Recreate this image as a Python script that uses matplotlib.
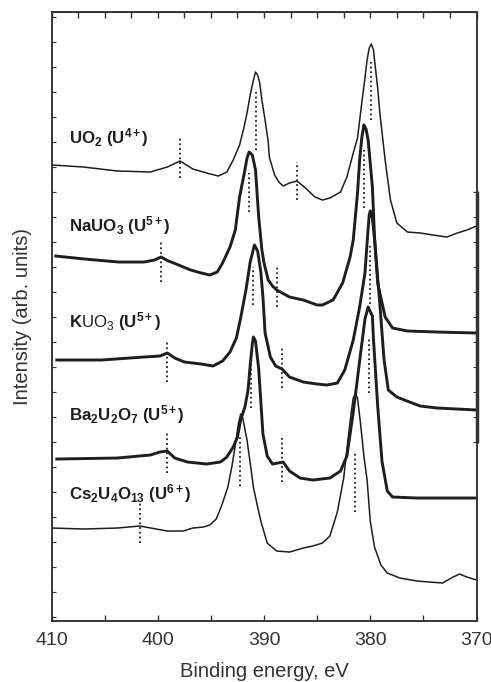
import numpy as np
import matplotlib.pyplot as plt
from matplotlib.ticker import MultipleLocator

plt.rcParams['font.family'] = ['Liberation Sans', 'DejaVu Sans']
plt.rcParams['mathtext.fontset'] = 'custom'
plt.rcParams['mathtext.rm'] = 'Liberation Sans'
plt.rcParams['mathtext.it'] = 'Liberation Sans'
plt.rcParams['mathtext.bf'] = 'Liberation Sans:bold'

# U4f spectra: binding energy (eV) and intensity (arb. units, stacked as in figure)
uo2_e = [409.9, 407.0, 403.8, 400.7, 399.1, 397.9, 396.7, 395.4, 394.3, 393.5, 392.9, 392.3,
         391.9, 391.6, 391.3, 391.1, 390.9, 390.8, 390.6, 390.4, 390.2, 389.9, 389.6, 389.5,
         389.2, 389.0, 388.6, 388.2, 387.6, 386.9, 386.1, 385.2, 384.5, 383.8, 382.8, 382.2,
         381.6, 381.2, 380.8, 380.5, 380.3, 380.1, 379.9, 379.7, 379.6, 379.3, 379.1, 378.6,
         378.1, 377.5, 376.5, 375.3, 374.1, 372.8, 371.8, 370.9, 370.0]
uo2_i = [456, 454, 450, 449, 454, 460, 452, 448, 445, 449, 461, 476,
         493, 508, 526, 536, 545, 549, 546, 538, 521, 501, 479, 464,
         453, 446, 439, 435, 438, 440, 433, 424, 421, 423, 429, 444,
         468, 483, 518, 543, 561, 573, 577, 571, 561, 533, 508, 461,
         421, 398, 389, 388, 386, 384, 388, 391, 395]

nauo3_e = [409.6, 406.9, 403.7, 401.3, 400.3, 399.7, 399.0, 398.5, 396.9, 395.9, 395.1, 394.4,
           393.9, 393.2, 392.7, 392.3, 391.8, 391.6, 391.4, 391.1, 390.8, 390.5, 390.2, 390.0,
           389.6, 389.2, 388.8, 387.6, 386.3, 385.0, 384.5, 383.5, 382.6, 381.9, 381.6, 381.2,
           381.0, 380.8, 380.6, 380.4, 380.2, 379.8, 379.6, 379.3, 378.6, 377.9, 376.5, 373.7,
           370.0]
nauo3_i = [365, 362, 359, 359, 361, 364, 360, 358, 351, 348, 346, 349,
           358, 374, 391, 424, 451, 463, 469, 466, 451, 404, 371, 358,
           341, 335, 331, 324, 321, 316, 316, 321, 338, 364, 381, 428,
           461, 483, 496, 492, 481, 434, 384, 338, 304, 293, 290, 289,
           288]

kuo3_e = [409.5, 405.3, 401.3, 399.8, 399.1, 398.4, 397.5, 395.9, 394.8, 393.9, 393.2, 392.6,
          392.2, 391.7, 391.3, 390.9, 390.6, 390.3, 390.1, 389.9, 389.4, 388.9, 388.3, 387.6,
          386.3, 385.0, 384.1, 383.1, 382.4, 381.6, 381.0, 380.5, 380.3, 380.1, 380.0, 379.8,
          379.6, 379.1, 378.7, 378.3, 377.5, 376.3, 375.3, 373.7, 370.0]
kuo3_i = [261, 261, 264, 265, 268, 263, 259, 257, 255, 260, 269, 283,
          303, 331, 359, 376, 370, 349, 324, 288, 264, 255, 252, 244,
          239, 237, 236, 238, 251, 281, 314, 348, 378, 406, 410, 403,
          382, 317, 261, 231, 224, 219, 215, 213, 211]

ba_e = [409.5, 403.8, 400.7, 399.8, 399.1, 398.4, 397.2, 395.4, 394.1, 393.5, 392.9, 392.5,
        392.2, 391.8, 391.5, 391.3, 391.1, 391.0, 390.8, 390.5, 390.1, 389.7, 389.2, 388.2,
        387.6, 386.6, 385.4, 383.8, 382.8, 382.2, 381.6, 381.0, 380.5, 380.2, 379.8, 379.7,
        379.3, 378.9, 378.4, 377.9, 375.6, 370.1]
ba_i = [162, 163, 166, 169, 170, 163, 159, 157, 159, 164, 174, 184,
        201, 214, 231, 256, 277, 284, 280, 252, 187, 165, 157, 159,
        150, 143, 141, 143, 150, 165, 209, 260, 302, 314, 305, 282,
        215, 160, 130, 124, 123, 123]

cs_e = [409.95, 407.0, 403.8, 401.7, 399.1, 397.6, 396.7, 395.7, 395.1, 394.5, 394.0, 393.4,
        393.0, 392.7, 392.4, 392.2, 392.0, 391.6, 391.3, 391.0, 390.6, 390.3, 389.7, 388.8,
        387.6, 386.3, 385.4, 384.5, 383.8, 383.1, 382.5, 382.1, 381.8, 381.6, 381.4, 381.2,
        380.9, 380.6, 380.3, 380.0, 379.6, 379.0, 378.4, 377.2, 375.6, 373.2, 372.2, 371.6,
        370.9, 370.0]
cs_i = [93, 92, 93, 95, 90, 90, 93, 94, 96, 102, 115, 134,
        156, 176, 198, 207, 203, 181, 158, 134, 114, 100, 78, 70,
        69, 73, 75, 78, 85, 109, 143, 181, 208, 223, 227, 223,
        196, 165, 141, 100, 74, 56, 48, 43, 40, 38, 44, 47,
        44, 41]

labels = [r'$\mathbf{UO_2\ (U^{4+})}$',
          r'$\mathbf{NaUO_3\ (U^{5+})}$',
          r'$\mathbf{K}\mathrm{UO_3}\ \mathbf{(U^{5+})}$',
          r'$\mathbf{Ba_2U_2O_7\ (U^{5+})}$',
          r'$\mathbf{Cs_2U_4O_{13}\ (U^{6+})}$']
label_y = [483, 395, 299, 206, 127]

# dotted markers: energy, lower, upper
marks = [(397.9, 443, 483), (390.8, 471, 529), (386.9, 421, 459), (379.9, 501, 559),
         (399.7, 339, 381), (391.4, 409, 448), (388.8, 314, 354), (380.6, 413, 471),
         (399.1, 239, 281), (391.0, 316, 354), (388.3, 233, 273), (380.0, 317, 376),
         (399.1, 148, 188), (391.2, 213, 269), (388.3, 139, 184), (380.1, 228, 284),
         (401.7, 78, 119), (392.3, 135, 186), (381.4, 109, 168)]

col = '#1e1e1e'
fig = plt.figure(figsize=(4.91, 6.82), dpi=100)
ax = fig.add_axes([0.1049, 0.0894, 0.8656, 0.893])

ax.plot(uo2_e, uo2_i, color=col, lw=1.1)
ax.plot(nauo3_e, nauo3_i, color=col, lw=2.1)
ax.plot(kuo3_e, kuo3_i, color=col, lw=2.1)
ax.plot(ba_e, ba_i, color=col, lw=2.1)
ax.plot(cs_e, cs_i, color=col, lw=1.1)

for e, lo, hi in marks:
    ax.plot([e, e], [lo, hi], color=col, lw=1.3, ls=(0, (1, 1.6)))

for t, y in zip(labels, label_y):
    ax.text(408.4, y, t, fontsize=12.2, color=col, ha='left', va='center')

ax.set_xlim(410, 370)
ax.set_ylim(0, 609)
ax.xaxis.set_major_locator(MultipleLocator(10))
ax.xaxis.set_minor_locator(MultipleLocator(5))
ax.set_yticks(np.arange(4, 609, 25))
ax.set_yticklabels([])
ax.tick_params(axis='x', which='both', direction='in', length=4, width=1, labelsize=14,
               pad=8, colors='#333333', labelcolor='#333333')
ax.tick_params(axis='y', direction='in', length=3, width=0.8, colors='#333333')

top = ax.secondary_xaxis('top')
top.xaxis.set_major_locator(MultipleLocator(2.5))
top.tick_params(direction='in', length=4, width=1, labeltop=False, colors='#333333')

right = ax.twinx()
right.set_ylim(0, 609)
right.set_yticks(np.arange(179, 430, 25))
right.tick_params(direction='in', length=3, width=0.8, labelright=False, colors='#333333')
right.vlines(370, 178, 430, color='#333333', lw=2.5, clip_on=False)

for a in (ax, right):
    for s in a.spines.values():
        s.set_color('#333333')
        s.set_linewidth(1.1)
top.spines['top'].set_color('#333333')

ax.set_xlabel('Binding energy, eV', fontsize=14.5, color='#333333')
ax.set_ylabel('Intensity (arb. units)', fontsize=14.5, color='#333333')
ax.xaxis.set_label_coords(0.5, -0.068)
ax.yaxis.set_label_coords(-0.045, 0.5)

fig.savefig('out.png', dpi=100)
